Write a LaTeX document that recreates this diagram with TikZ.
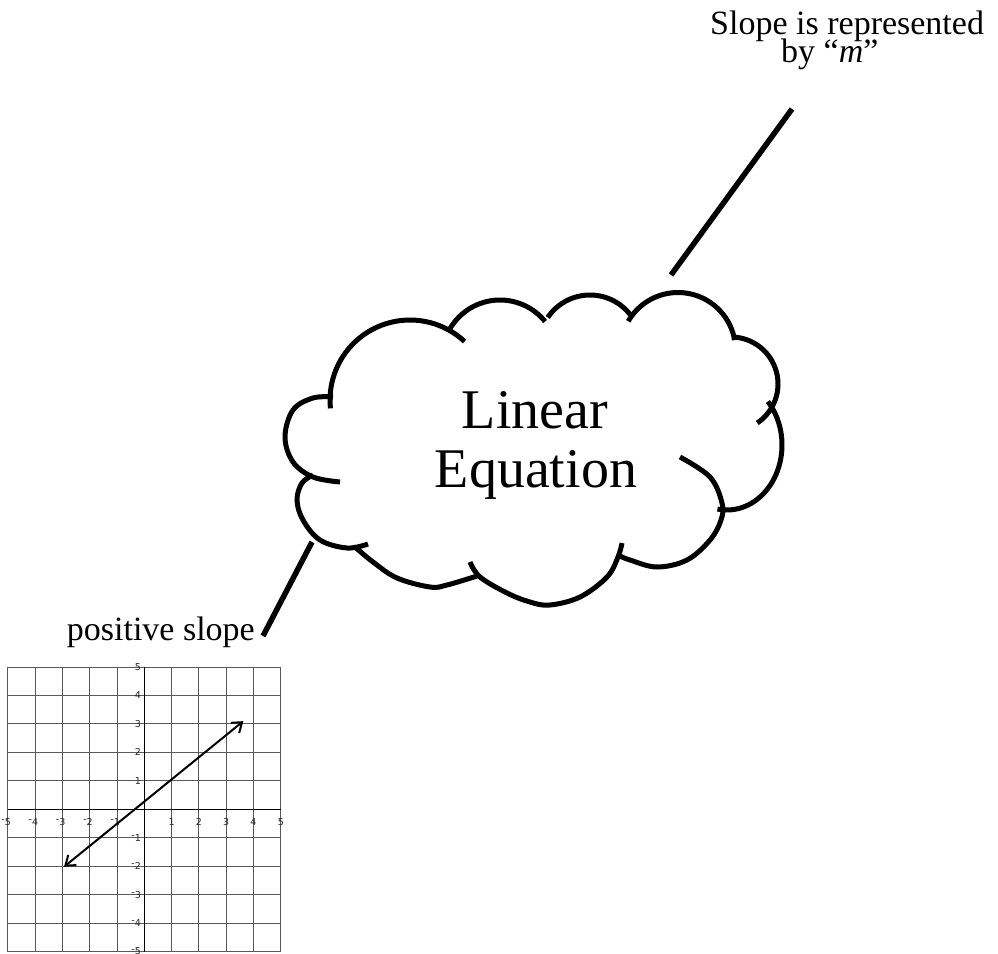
\documentclass[tikz,border=0pt]{standalone}
\usepackage{fontspec}
\setmainfont{Liberation Serif}
\newfontfamily\tickfont{DejaVu Sans}
\usetikzlibrary{arrows.meta}
\begin{document}
\begin{tikzpicture}[x=1pt,y=-1pt,
  cl/.style={line width=5pt},
  conn/.style={line width=5.5pt},
  gridc/.style={line width=1pt, draw=black!65},
  axisc/.style={line width=1.6pt, draw=black},
  tick/.style={font=\tickfont\fontsize{9.5}{9.5}\selectfont, inner sep=0pt, text=black!85},
  big/.style={font=\fontsize{56}{56}\selectfont, inner sep=0pt},
  mid/.style={font=\fontsize{34}{34}\selectfont, inner sep=0pt},
  arr/.style={line width=2pt, {Straight Barb[length=9pt,width=13pt]}-{Straight Barb[length=9pt,width=13pt]}}]
\useasboundingbox[fill=white] (0,0) rectangle (998,953);

% cloud
\draw[cl] plot[domain=174:313, samples=40] ({410+80*cos(\x)},{400+80*sin(\x)});
\draw[cl] plot[domain=211:321, samples=40] ({500+58*cos(\x)},{358+58*sin(\x)});
\draw[cl] plot[domain=214:322, samples=40] ({590+51*cos(\x)},{346+51*sin(\x)});
\draw[cl] plot[domain=210:350, samples=40] ({678+57.5*cos(\x)},{350+57.5*sin(\x)});
\draw[cl] plot[domain=271:416, samples=40] ({731+47*cos(\x)},{384+47*sin(\x)});
\draw[cl] plot[domain=-42:100, samples=40] ({727+55*cos(\x)},{445+65*sin(\x)});
\draw[cl] plot[smooth, tension=0.6] coordinates {(680,457) (710,477) (722,503) (721,520) (710,540) (687,560) (657,567) (630,560) (620,556)};
\draw[cl] plot[smooth, tension=0.6] coordinates {(622,543) (618,557) (607,577) (580,597) (550,605) (530,602) (507,593) (480,577) (470,562)};
\draw[cl] plot[smooth, tension=0.6] coordinates {(477,576) (447,585) (430,587) (397,578) (373,562) (355,547)};
\draw[cl] plot[smooth, tension=0.6] coordinates {(368,544) (347,548) (320,540) (303,520) (297,500) (302,483) (313,475)};
\draw[cl] plot[smooth, tension=0.6] coordinates {(340,482) (313,477) (293,462) (285,437) (293,410) (313,398) (333,397)};

% texts
\node[big, anchor=base] (lin) at (535,428) {Linear};
\node[big, anchor=base] (equ) at (536,487) {Equation};
\node[mid, anchor=base west] (s1) at (710,34) {Slope is represented};
\node[mid, anchor=base west] (s2) at (781,62) {by “\textit{m}”};
\node[mid, anchor=base east] (pos) at (255,640) {positive slope};

% connectors
\coordinate (ca) at (671,275);
\coordinate (cb) at (792,109);
\draw[conn] (ca) -- (cb);
\coordinate (cc) at (312,542);
\coordinate (cd) at (263,636);
\draw[conn] (cc) -- (cd);

% graph
\begin{scope}[shift={(144.3,809.3)}, x=27.3pt, y=28.45pt]
  \foreach \i in {-5,...,5} {
    \draw[gridc] (\i,-5) -- (\i,5);
    \draw[gridc] (-5,\i) -- (5,\i);
  }
  \draw[axisc] (-5,0) -- (5,0);
  \draw[axisc] (0,-5) -- (0,5);
  \foreach \i in {1,...,5} {
    \node[tick] (xp\i) at (\i,-0.45) {\i};
    \node[tick] (xn\i) at (-\i,-0.45) {\llap{\raisebox{0.3em}{-}}\i};
    \node[tick, anchor=east] (yp\i) at (-0.12,\i) {\i};
    \node[tick, anchor=east] (yn\i) at (-0.12,-\i) {\llap{\raisebox{0.3em}{-}}\i};
  }
  \coordinate (p1) at (-2.94,-2.02);
  \coordinate (p2) at (3.63,3.1);
  \draw[arr] (p1) -- (p2);
\end{scope}
\end{tikzpicture}
\end{document}
